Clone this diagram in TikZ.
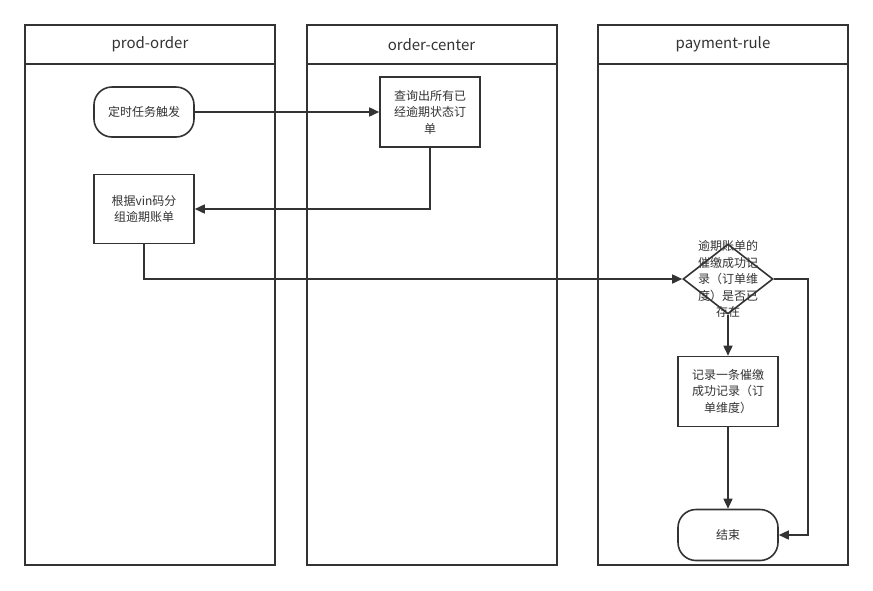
\documentclass[tikz,border=0pt]{standalone}
\usepackage{fontspec}
\setmainfont{Noto Sans CJK SC}
\usetikzlibrary{arrows.meta,shapes.geometric}
\definecolor{ink}{HTML}{333333}
\begin{document}
\begin{tikzpicture}[x=1pt,y=-1pt,
  lane/.style={draw=ink,line width=2pt},
  lanetitle/.style={text=ink,font=\fontsize{15}{18}\selectfont,anchor=center},
  txt/.style={text=ink,font=\fontsize{12}{16.5}\selectfont,align=center},
  term/.style={txt,draw=ink,line width=1.6pt,rounded corners=18pt,minimum width=100pt,minimum height=50pt,inner sep=0pt},
  proc/.style={txt,draw=ink,line width=1.6pt,minimum width=100pt,minimum height=70pt,inner sep=0pt},
  decision/.style={diamond,draw=ink,line width=1.6pt,minimum width=90pt,minimum height=70pt,inner sep=0pt},
  flow/.style={draw=ink,line width=1.6pt,-{Triangle[length=10pt,width=9pt]}},
]
\useasboundingbox (0,0) rectangle (873,590);
\fill[white] (0,0) rectangle (873,590);

% swimlanes
\foreach \x/\name in {25/prod-order,306.5/order-center,598/payment-rule}{
  \draw[lane] (\x,25) rectangle ++(250,540);
  \draw[lane] (\x,64) -- ++(250,0);
  \node[lanetitle] at (\x+125,44.5) {\name};
}

% prod-order
\node[term] (start) at (144,112) {定时任务触发};
\node[proc,minimum height=69pt] (group) at (144,209) {根据vin码分\\组逾期账单};

% order-center
\node[proc] (query) at (430,112) {查询出所有已\\经逾期状态订\\单};

% payment-rule
\node[decision] (check) at (728,279) {};
\node[txt] (checktext) at (check.center) {逾期账单的\\催缴成功记\\录（订单维\\度）是否已\\存在};
\node[proc] (record) at (728,391.5) {记录一条催缴\\成功记录（订\\单维度）};
\node[term,minimum height=51pt] (finish) at (728,535) {结束};
\coordinate (side) at (808,279);

% connectors
\draw[flow] (start) -- (query);
\draw[flow] (query.south) |- (group.east);
\draw[flow] (group.south) |- (check.west);
\draw[flow] (check.south) -- (record.north);
\draw[flow] (record.south) -- (finish.north);
\draw[flow] (check.east) -- (side) |- (finish.east);
\end{tikzpicture}
\end{document}
